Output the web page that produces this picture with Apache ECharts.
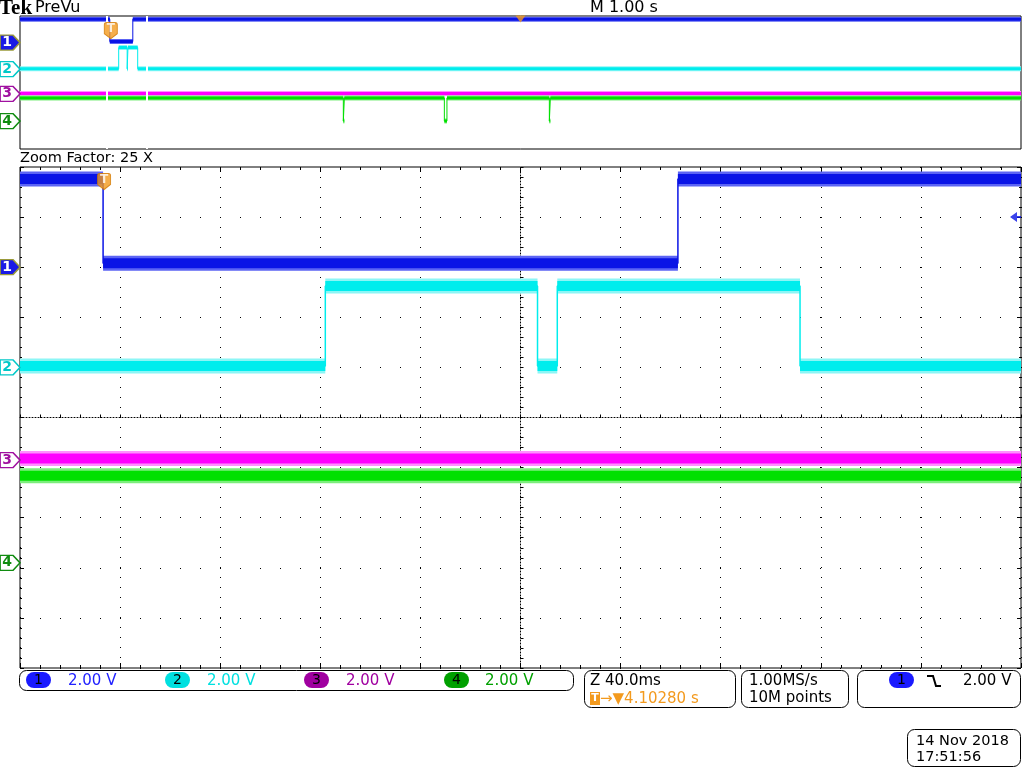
<!DOCTYPE html>
<html><head><meta charset="utf-8">
<script src="https://cdn.jsdelivr.net/npm/echarts@6/dist/echarts.min.js"></script>
<style>html,body{margin:0;padding:0;background:#fff}#c{width:1024px;height:768px}</style>
</head><body><div id="c"></div>
<script>
// ---- scope settings ----
const channelNames = ['1', '2', '3', '4'];
const voltsPerDiv = [2.00, 2.00, 2.00, 2.00];
const channelOffsetDiv = [3.0, 1.0, -0.85, -2.9];
const recordSecPerDiv = 1.00;      // "M 1.00 s"
const zoomMsPerDiv = 40.0;         // "Z 40.0ms"
const horizPosSec = 4.10280;       // trigger -> record centre
const zoomCentreMs = 166.8;        // zoom window centre, after trigger
const triggerLevelV = 2.00;
const zoomFactor = 25;

// ---- waveforms: edge times (ms after trigger) and levels (V) between edges ----
const ch1EdgesMs = [0.0, 229.7];
const ch1LevelsV = [3.52, 0.16, 3.52];
const ch2EdgesMs = [88.8, 173.6, 181.5, 278.5];
const ch2LevelsV = [0.06, 3.25, 0.06, 3.25, 0.06];
const ch3EdgesMs = [];
const ch3LevelsV = [0.06];
const ch4EdgesMs = [2333, 2343, 3342, 3368, 4391, 4401];
const ch4LevelsV = [3.47, 0.0, 3.47, 0.0, 3.47, 0.0, 3.47];

// ---- colours ----
const traceColor = ['#0a14e6', '#00eded', '#ff00ff', '#00e000'];
const haloColor  = ['#5c64f4', '#8cf6f6', '#ff90ff', '#7cee7c'];
const tagFill    = ['#1a1ae6', '#ffffff', '#ffffff', '#ffffff'];
const tagStroke  = ['#9a9a3a', '#00c8c8', '#a010a0', '#108c10'];
const tagText    = ['#ffffff', '#00c8c8', '#a010a0', '#108c10'];
const statusColor = ['#2222ff', '#00e0e0', '#a000a0', '#00a000'];
const pillColor  = ['#1a1aff', '#00e0e0', '#a000a0', '#00a000'];
const orange = '#f39a1e';
const FONT = 'DejaVu Sans';

const EDGES = [ch1EdgesMs, ch2EdgesMs, ch3EdgesMs, ch4EdgesMs];
const LEVELS = [ch1LevelsV, ch2LevelsV, ch3LevelsV, ch4LevelsV];

const recordStartMs = (horizPosSec - 5 * recordSecPerDiv) * 1000;
const recordEndMs = (horizPosSec + 5 * recordSecPerDiv) * 1000;
const zoomStartMs = zoomCentreMs - 5 * zoomMsPerDiv;
const zoomEndMs = zoomCentreMs + 5 * zoomMsPerDiv;

function levelAt(edges, levels, t) {
  let i = 0;
  while (i < edges.length && edges[i] <= t) i++;
  return levels[i];
}
function stepPoints(edges, levels, t0, t1, map) {
  const pts = [[map(t0), levelAt(edges, levels, t0)]];
  edges.forEach((e, i) => { if (e > t0 && e < t1) pts.push([map(e), levels[i + 1]]); });
  pts.push([map(t1), levelAt(edges, levels, t1)]);
  return pts;
}
function bandPoints(edges, levels, t0, t1, map) {
  const cuts = [t0].concat(edges.filter(e => e > t0 && e < t1), [t1]);
  const pts = [];
  for (let k = 0; k < cuts.length - 1; k++) {
    const v = levelAt(edges, levels, (cuts[k] + cuts[k + 1]) / 2);
    pts.push([map(cuts[k]), v], [map(cuts[k + 1]), v], [map(cuts[k + 1]), '-']);
  }
  return pts;
}

const panels = [
  { xi: 0, divY: 0, chY: [1, 2, 3, 4], t0: recordStartMs, t1: recordEndMs, map: t => t / 1000,
    xmin: horizPosSec - 5 * recordSecPerDiv, halo: 5, core: 3, edge: 1 },
  { xi: 1, divY: 5, chY: [8, 9, 10, 11], t0: zoomStartMs, t1: zoomEndMs, map: t => t - zoomCentreMs,
    xmin: -5 * zoomMsPerDiv, halo: 15, core: 10, edge: 1.5 }
];

// ---- axes ----
const dotted = (d) => ({ color: '#000', width: 1, type: d });
const xAxes = [
  { gridIndex: 0, type: 'value', min: horizPosSec - 5 * recordSecPerDiv, max: horizPosSec + 5 * recordSecPerDiv, show: false },
  { gridIndex: 1, type: 'value', min: -5 * zoomMsPerDiv, max: 5 * zoomMsPerDiv, interval: zoomMsPerDiv, position: 'bottom',
    axisLine: { show: true, onZero: true, onZeroAxisIndex: 5, lineStyle: dotted([1, 2]) },
    axisTick: { show: true, inside: true, length: 3, lineStyle: { color: '#000' } },
    minorTick: { show: true, splitNumber: 5, length: 3, lineStyle: { color: '#000' } },
    axisLabel: { show: false },
    splitLine: { show: true, lineStyle: dotted([1, 9]) } },
  { gridIndex: 1, type: 'value', min: -5 * zoomMsPerDiv, max: 5 * zoomMsPerDiv, interval: zoomMsPerDiv, position: 'top',
    axisLine: { show: false, onZero: false }, axisTick: { show: true, inside: true, length: 5, lineStyle: { color: '#000' } },
    minorTick: { show: true, splitNumber: 5, length: 3, lineStyle: { color: '#000' } }, axisLabel: { show: false }, splitLine: { show: false } },
  { gridIndex: 1, type: 'value', min: -5 * zoomMsPerDiv, max: 5 * zoomMsPerDiv, interval: zoomMsPerDiv, position: 'bottom',
    axisLine: { show: false, onZero: false }, axisTick: { show: true, inside: true, length: 5, lineStyle: { color: '#000' } },
    minorTick: { show: true, splitNumber: 5, length: 3, lineStyle: { color: '#000' } }, axisLabel: { show: false }, splitLine: { show: false } }
];
const chAxis = (g, c) => ({ gridIndex: g, type: 'value', show: false,
  min: (-5 - channelOffsetDiv[c]) * voltsPerDiv[c], max: (5 - channelOffsetDiv[c]) * voltsPerDiv[c],
  axisLine: { onZero: false } });
const edgeY = (pos) => ({ gridIndex: 1, type: 'value', min: -5, max: 5, interval: 1, position: pos,
  axisLine: { show: false, onZero: false }, axisTick: { show: true, inside: true, length: 4, lineStyle: { color: '#000' } },
  minorTick: { show: true, splitNumber: 5, length: 2, lineStyle: { color: '#000' } }, axisLabel: { show: false }, splitLine: { show: false } });
const yAxes = [
  { gridIndex: 0, type: 'value', min: -5, max: 5, show: false, axisLine: { onZero: false } },
  chAxis(0, 0), chAxis(0, 1), chAxis(0, 2), chAxis(0, 3),
  { gridIndex: 1, type: 'value', min: -5, max: 5, interval: 1, position: 'left',
    axisLine: { show: true, onZero: true, onZeroAxisIndex: 1, lineStyle: dotted([1, 2]) },
    axisTick: { show: true, inside: true, length: 3, lineStyle: { color: '#000' } },
    minorTick: { show: true, splitNumber: 5, length: 3, lineStyle: { color: '#000' } },
    axisLabel: { show: false },
    splitLine: { show: true, lineStyle: dotted([1, 19]) } },
  edgeY('left'), edgeY('right'),
  chAxis(1, 0), chAxis(1, 1), chAxis(1, 2), chAxis(1, 3)
];

// ---- series ----
const series = [];
panels.forEach((p) => {
  for (let c = 0; c < 4; c++) {
    const band = bandPoints(EDGES[c], LEVELS[c], p.t0, p.t1, p.map);
    const common = { type: 'line', xAxisIndex: p.xi, yAxisIndex: p.chY[c], symbol: 'none', silent: true,
      connectNulls: false, animation: false };
    series.push(Object.assign({}, common, { data: band, z: 2,
      lineStyle: { width: p.halo, color: haloColor[c], cap: 'butt' } }));
    series.push(Object.assign({}, common, { data: band, z: 3,
      lineStyle: { width: p.core, color: traceColor[c], cap: 'butt' } }));
    series.push(Object.assign({}, common, { data: stepPoints(EDGES[c], LEVELS[c], p.t0, p.t1, p.map), step: 'end', z: 4,
      lineStyle: { width: p.edge, color: traceColor[c] } }));
  }
  // channel ground tags
  for (let c = 0; c < 4; c++) {
    series.push({ type: 'scatter', xAxisIndex: p.xi, yAxisIndex: p.chY[c], clip: false, silent: true, animation: false, z: 10,
      data: [[p.xmin, 0]],
      symbol: 'path://M0,0 L13,0 L20,7.5 L13,15 L0,15 Z', symbolSize: [20, 15], symbolOffset: [-10, 0],
      itemStyle: { color: tagFill[c], borderColor: tagStroke[c], borderWidth: 1.5, opacity: 1 },
      label: { show: true, position: 'inside', offset: [-3, 0], formatter: channelNames[c],
        color: tagText[c], fontSize: 14, fontWeight: 'bold', fontFamily: FONT } });
  }
});

// trigger "T" markers (trigger time is 0 ms)
const trigShield = 'path://M2,0 L11,0 Q13,0 13,2 L13,11 L6.5,16 L0,11 L0,2 Q0,0 2,0 Z';
series.push({ type: 'scatter', xAxisIndex: 1, yAxisIndex: 5, clip: false, silent: true, animation: false, z: 12,
  data: [[panels[1].map(0), 4.71]], symbol: trigShield, symbolSize: [13, 16], symbolOffset: [1, 0],
  itemStyle: { color: orange, borderColor: '#d27800', borderWidth: 1 },
  label: { show: true, position: 'inside', offset: [0, -2], formatter: 'T', color: '#fff', fontSize: 12, fontWeight: 'bold', fontFamily: FONT } });
series.push({ type: 'scatter', xAxisIndex: 0, yAxisIndex: 0, clip: false, silent: true, animation: false, z: 12,
  data: [[panels[0].map(0), 3.9]], symbol: trigShield, symbolSize: [13, 16], symbolOffset: [1, 0],
  itemStyle: { color: orange, borderColor: '#d27800', borderWidth: 1 },
  label: { show: true, position: 'inside', offset: [0, -2], formatter: 'T', color: '#fff', fontSize: 12, fontWeight: 'bold', fontFamily: FONT } });
// trigger level arrow (ch1, right edge of zoom window)
series.push({ type: 'scatter', xAxisIndex: 1, yAxisIndex: 8, clip: false, silent: true, animation: false, z: 12,
  data: [[5 * zoomMsPerDiv, triggerLevelV]],
  symbol: 'path://M0,5 L7,0 L7,4 L11,4 L11,6 L7,6 L7,10 Z', symbolSize: [11, 10], symbolOffset: [-5.5, 0],
  itemStyle: { color: traceColor[0] } });
// horizontal position marker (record centre)
series.push({ type: 'scatter', xAxisIndex: 0, yAxisIndex: 0, clip: false, silent: true, animation: false, z: 12,
  data: [[horizPosSec, 5]], symbol: 'triangle', symbolRotate: 180, symbolSize: [10, 7], symbolOffset: [0, 3],
  itemStyle: { color: orange } });
// zoom window boundaries in the record view
series.push({ type: 'line', xAxisIndex: 0, yAxisIndex: 0, data: [], silent: true, animation: false, z: 8,
  markLine: { silent: true, symbol: 'none', animation: false, label: { show: false },
    lineStyle: { color: '#ffffff', width: 2, type: 'solid' },
    data: [{ xAxis: panels[0].map(zoomStartMs) }, { xAxis: panels[0].map(zoomEndMs) }] } });

// ---- status texts ----
const txt = (x, y, s, color, size, extra) => Object.assign({ type: 'text', x: x, y: y, silent: true,
  style: Object.assign({ text: s, fill: color, font: (size || 15) + 'px "' + FONT + '"', textVerticalAlign: 'middle' }, (extra || {})) });
const box = (x, y, w, h) => ({ type: 'rect', silent: true, shape: { x: x, y: y, width: w, height: h, r: 7 },
  style: { fill: 'none', stroke: '#000', lineWidth: 1 } });
const pill = (x, y, fill, label) => ([
  { type: 'rect', silent: true, shape: { x: x, y: y, width: 25, height: 16, r: 8 }, style: { fill: fill } },
  { type: 'text', silent: true, x: x + 12.5, y: y + 8, style: { text: label, fill: '#000', font: '14px "' + FONT + '"', textAlign: 'center', textVerticalAlign: 'middle' } }
]);

const statusX = [[26, 68], [165, 207], [304, 346], [444, 485]];
const graphics = [
  txt(-1, 9, 'Tek', '#000', 21, { font: 'bold 21px "Liberation Serif"' }),
  txt(35, 8, 'PreVu', '#000', 16),
  txt(590, 8, 'M ' + recordSecPerDiv.toFixed(2) + ' s', '#000', 16),
  txt(20, 158, 'Zoom Factor: ' + zoomFactor + ' X', '#000', 14.5),
  box(19.5, 670.5, 554, 20),
  box(584.5, 670.5, 151, 37),
  box(741.5, 670.5, 107, 37),
  box(857.5, 670.5, 163, 37),
  box(907.5, 729.5, 113, 37),
  txt(590, 681, 'Z ' + zoomMsPerDiv.toFixed(1) + 'ms', '#000', 15),
  { type: 'rect', silent: true, shape: { x: 590, y: 692, width: 10, height: 13 }, style: { fill: orange } },
  { type: 'text', silent: true, x: 595, y: 698.5, style: { text: 'T', fill: '#fff', font: 'bold 11px "' + FONT + '"', textAlign: 'center', textVerticalAlign: 'middle' } },
  txt(600, 699, '→▼' + horizPosSec.toFixed(5) + ' s', orange, 15),
  txt(749, 681, '1.00MS/s', '#000', 15),
  txt(749, 698, '10M points', '#000', 15),
  txt(963, 681, triggerLevelV.toFixed(2) + ' V', '#000', 15),
  { type: 'polyline', silent: true, shape: { points: [[927, 676], [933, 676], [936, 686], [941, 686]] }, style: { stroke: '#000', lineWidth: 2, fill: 'none' } },
  txt(916, 741, '14 Nov 2018', '#000', 14.5),
  txt(916, 757, '17:51:56', '#000', 14.5)
].concat(pill(889, 672, pillColor[0], channelNames[0]));
for (let c = 0; c < 4; c++) {
  graphics.push.apply(graphics, pill(statusX[c][0], 672, pillColor[c], channelNames[c]));
  graphics.push(txt(statusX[c][1], 681, voltsPerDiv[c].toFixed(2) + ' V', statusColor[c], 15));
}

const chart = echarts.init(document.getElementById('c'), null, { renderer: 'canvas', width: 1024, height: 768 });
chart.setOption({
  animation: false,
  backgroundColor: '#ffffff',
  grid: [
    { left: 20, top: 16, width: 1001, height: 133, show: true, borderColor: '#000', borderWidth: 1, containLabel: false },
    { left: 20, top: 167, width: 1001, height: 501, show: true, borderColor: '#000', borderWidth: 1, containLabel: false }
  ],
  xAxis: xAxes,
  yAxis: yAxes,
  series: series,
  graphic: graphics
});
</script></body></html>
